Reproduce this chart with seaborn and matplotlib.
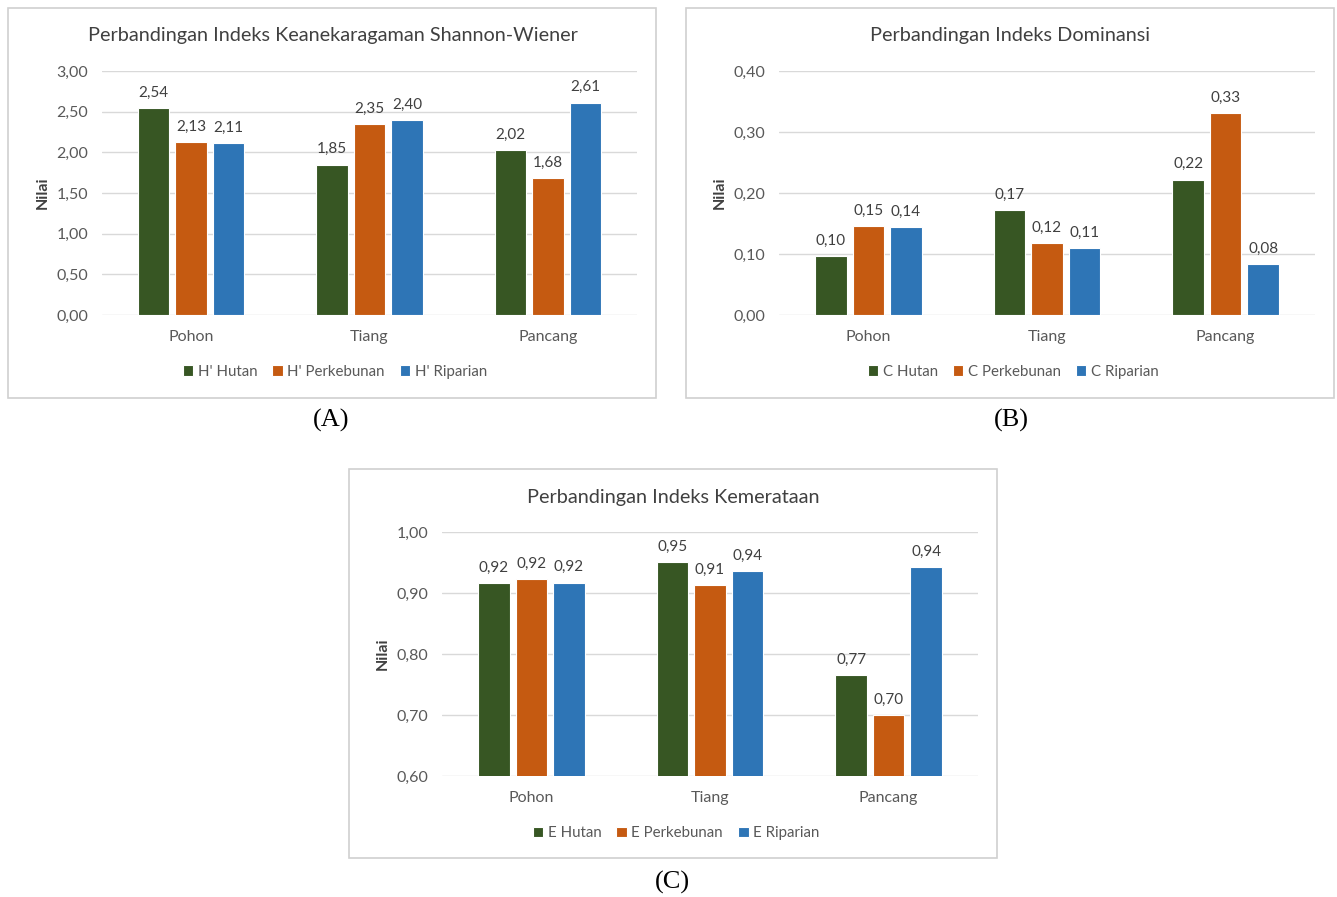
import numpy as np
import pandas as pd
import seaborn as sns
import matplotlib.pyplot as plt
from matplotlib.patches import Rectangle
from matplotlib.ticker import FuncFormatter

categories = ["Pohon", "Tiang", "Pancang"]

h_hutan = [2.54, 1.85, 2.024]
h_perkebunan = [2.13, 2.35, 1.68]
h_riparian = [2.11, 2.40, 2.61]

c_hutan = [0.096, 0.172, 0.222]
c_perkebunan = [0.146, 0.118, 0.331]
c_riparian = [0.144, 0.11, 0.083]

e_hutan = [0.916, 0.95, 0.766]
e_perkebunan = [0.923, 0.913, 0.70]
e_riparian = [0.917, 0.936, 0.942]

colors = ["#375623", "#C55A11", "#2E75B6"]

sns.set_theme(style="white")
plt.rcParams["font.family"] = ["Lato", "DejaVu Sans"]

fig = plt.figure(figsize=(13.37, 8.97), dpi=100)
W, H = 1337, 897


def fx(px):
    return px / W


def fy(py):
    return 1 - py / H


def comma(v, _=None):
    return f"{v:.2f}".replace(".", ",")


def panel(box, area, title, prefix, series, ylim, step, legend_x, legend_y, title_xy, tag_xy, tag):
    # panel frame
    x0, y0, x1, y1 = box
    fig.add_artist(Rectangle((fx(x0), fy(y1)), fx(x1 - x0), (y1 - y0) / H,
                             transform=fig.transFigure, facecolor="white",
                             edgecolor="#D0D0D0", linewidth=1.2, zorder=0))
    ax0, ay0, ax1, ay1 = area
    ax = fig.add_axes([fx(ax0), fy(ay1), fx(ax1 - ax0), (ay1 - ay0) / H])
    ax.set_facecolor("none")

    names = [f"{prefix} Hutan", f"{prefix} Perkebunan", f"{prefix} Riparian"]
    df = pd.DataFrame({
        "kategori": categories * 3,
        "seri": np.repeat(names, 3),
        "nilai": np.concatenate(series),
    })
    sns.barplot(data=df, x="kategori", y="nilai", hue="seri", hue_order=names,
                palette=colors, width=0.63, gap=0.16, saturation=1,
                edgecolor="white", linewidth=0.8, ax=ax, zorder=3)
    for cont in ax.containers:
        ax.bar_label(cont, labels=[comma(b.get_height()) for b in cont],
                     padding=6, fontsize=11, color="#404040")

    ax.set_ylim(*ylim)
    ax.set_xlim(-0.5, 2.5)
    ax.set_yticks(np.arange(ylim[0], ylim[1] + step / 2, step))
    ax.yaxis.set_major_formatter(FuncFormatter(comma))
    ax.grid(axis="y", color="#D9D9D9", linewidth=1, zorder=0)
    ax.set_axisbelow(True)
    for s in ax.spines.values():
        s.set_visible(False)
    ax.tick_params(axis="both", length=0, labelsize=11.5, labelcolor="#595959")
    ax.tick_params(axis="x", pad=11)
    ax.tick_params(axis="y", pad=10)
    ax.set_xlabel("")
    ax.set_ylabel("")

    sns.move_legend(ax, "center", bbox_to_anchor=(fx(legend_x), fy(legend_y)),
                    bbox_transform=fig.transFigure, ncol=3, frameon=False,
                    title=None, fontsize=10.8, handlelength=0.7, handleheight=0.7,
                    handletextpad=0.3, columnspacing=1.0)
    for t in ax.get_legend().get_texts():
        t.set_color("#595959")

    fig.text(fx(title_xy[0]), fy(title_xy[1]), title, ha="center", va="center",
             fontsize=14.3, color="#404040")
    fig.text(fx(ax0 - 59), fy((ay0 + ay1) / 2), "Nilai", rotation=90,
             ha="center", va="center", fontsize=11.5, fontweight="bold", color="#404040")
    fig.text(fx(tag_xy[0]), fy(tag_xy[1]), tag, ha="center", va="center",
             fontsize=19, family=["Liberation Serif", "DejaVu Serif"], color="black")


panel((8, 8, 656, 398), (102, 71, 637, 315),
      "Perbandingan Indeks Keanekaragaman Shannon-Wiener", "H'",
      [h_hutan, h_perkebunan, h_riparian], (0, 3.0), 0.5,
      335, 372, (333, 36), (331, 420), "(A)")

panel((686, 8, 1334, 398), (779, 71, 1315, 315),
      "Perbandingan Indeks Dominansi", "C",
      [c_hutan, c_perkebunan, c_riparian], (0, 0.4), 0.1,
      1013, 372, (1010, 36), (1011, 420), "(B)")

panel((349, 469, 997, 858), (442, 532, 978, 776),
      "Perbandingan Indeks Kemerataan", "E",
      [e_hutan, e_perkebunan, e_riparian], (0.6, 1.0), 0.1,
      676, 833, (673, 497), (672, 882), "(C)")

fig.savefig("out.png", dpi=100, facecolor="white")
